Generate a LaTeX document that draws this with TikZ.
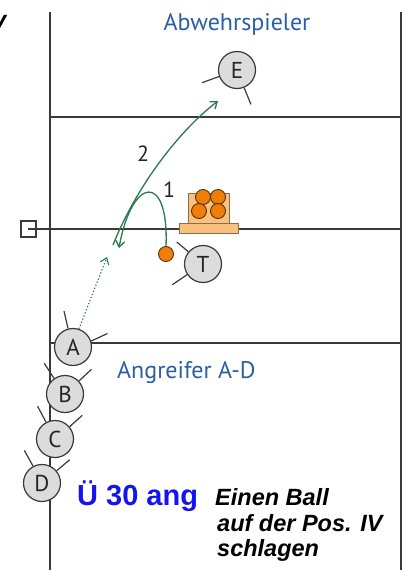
\documentclass[tikz,border=0pt]{standalone}
\usepackage{fontspec}
\setmainfont{PT Sans}
\newfontfamily\arialfont{Liberation Sans}
\usetikzlibrary{arrows.meta}
\definecolor{court}{HTML}{3A3A3A}
\definecolor{labelblue}{HTML}{2B5EA5}
\definecolor{arrowgreen}{HTML}{2A7A4C}
\definecolor{ballorange}{HTML}{F07F0A}
\definecolor{ballbrown}{HTML}{5A3000}
\definecolor{basketfill}{HTML}{F8C27E}
\definecolor{playerfill}{HTML}{DCDCDC}
\definecolor{ueblue}{HTML}{1414F0}
\begin{document}
\begin{tikzpicture}[x=1pt,y=-1pt,
  courtline/.style={draw=court,line width=1.4pt},
  player/.style={circle,draw=court,line width=1.2pt,fill=playerfill,minimum size=37pt,inner sep=0pt,text=black!85,font=\fontsize{23}{23}\selectfont},
  arm/.style={draw=court,line width=1.2pt},
  ball/.style={circle,draw=ballbrown,line width=0.9pt,fill=ballorange,minimum size=15pt,inner sep=0pt},
  basketbox/.style={draw=ballbrown!70,line width=0.9pt,fill=basketfill},
  greenarrow/.style={draw=arrowgreen,line width=1.3pt,-{Straight Barb[length=6pt,width=9pt]}},
  bluelabel/.style={text=labelblue,font=\fontsize{24}{26}\selectfont,inner sep=0pt},
  numlabel/.style={text=black!85,font=\fontsize{22}{22}\selectfont,inner sep=0pt},
  notetext/.style={font=\fontsize{23.5}{25}\arialfont\bfseries\itshape,inner sep=0pt},
  uetext/.style={text=ueblue,font=\fontsize{29}{30}\arialfont\bfseries,inner sep=0pt}
]
\useasboundingbox (0,0) rectangle (409,570);
% court
\draw[courtline] (50,12) -- (50,570);
\draw[courtline] (401,12) -- (401,570);
\draw[courtline] (50,117) -- (401,117);
\draw[courtline] (50,343) -- (401,343);
\coordinate (netpost) at (28,229);
\draw[courtline] (netpost) -- (401,229);
\draw[court,line width=1.4pt] (21,221) rectangle (36,237);
% basket
\draw[basketbox] (188,193) rectangle (229,223);
\draw[basketbox] (179,223) rectangle (238,233);
\node[ball] (b1) at (203,197) {};
\node[ball] (b2) at (218,197) {};
\node[ball] (b3) at (199,211) {};
\node[ball] (b4) at (218,211) {};
% players
\node[player] (E) at (237,70) {E};
\node[player] (T) at (203,264) {T};
\node[player] (A) at (73,347) {A};
\node[player] (B) at (65,394) {B};
\node[player] (C) at (55,439) {C};
\node[player] (D) at (42,483) {D};
\draw[arm] (E.200) -- ++(200:18pt);
\draw[arm] (E.-68) -- ++(-68:18pt);
\draw[arm] (T.140) -- ++(140:15pt);
\draw[arm] (T.214) -- ++(214:18pt);
\draw[arm] (A.105) -- ++(103:18pt);
\draw[arm] (A.18) -- ++(25:18pt);
\draw[arm] (B.125) -- ++(123:18pt);
\draw[arm] (B.43) -- ++(43:17pt);
\draw[arm] (C.118) -- ++(118:18pt);
\draw[arm] (C.40) -- ++(42:17pt);
\draw[arm] (D.118) -- ++(119:18pt);
\draw[arm] (D.40) -- ++(40:17pt);
% ball near T
\node[ball] (tb) at (166,254) {};
% arrows
\coordinate (c1e) at (119,248);
\coordinate (c2s) at (113,245);
\coordinate (c2e) at (218,101);
\coordinate (d2) at (107,257);
\draw[greenarrow] (tb.north) .. controls (169,172) and (132,176) .. (c1e);
\draw[greenarrow] (c2s) .. controls (137,185) and (180,130) .. (c2e);
\draw[greenarrow,dotted,line width=1.1pt] (A.72) -- (d2);
% labels
\node[numlabel] (n1) at (169,190) {1};
\node[numlabel] (n2) at (143,154) {2};
\node[bluelabel,anchor=base] (lab1) at (237,30) {Abwehrspieler};
\node[bluelabel,anchor=base west] (lab2) at (117,378) {Angreifer A-D};
\node[uetext,anchor=base west] (ue) at (77,505) {Ü 30 ang};
\node[notetext,anchor=base west] (t1) at (215,505) {Einen Ball};
\node[notetext,anchor=base west] (t2) at (217,531) {auf der Pos. IV};
\node[notetext,anchor=base west] (t3) at (217,556) {schlagen};
\node[notetext,anchor=base east] (tv) at (6,31) {V};
\end{tikzpicture}
\end{document}
